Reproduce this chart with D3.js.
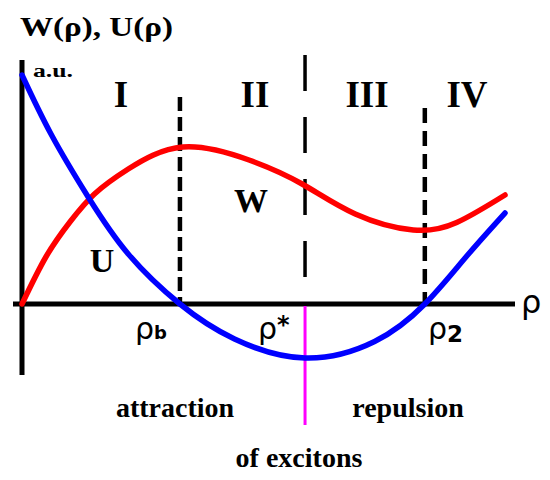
<!DOCTYPE html>
<html><head><meta charset="utf-8">
<script src="https://cdn.jsdelivr.net/npm/d3@7"></script>
<style>body{margin:0;background:#fff}svg{display:block}</style>
</head><body>
<script>
// Data
const uRho = [0, 0.6, 1.37, 2.2, 3.27, 4.4, 5.86, 7.3, 8.34, 9.2, 10];
const uVal = [4.58, 3.4, 2.14, 1.0, 0, -0.70, -1.08, -0.75, 0, 0.95, 1.82];
const wRho = [0, 0.5, 1.0, 1.5, 2.2, 3.33, 4.7, 5.8, 6.9, 8.1, 9.0, 10];
const wVal = [0, 0.95, 1.65, 2.2, 2.7, 3.14, 2.88, 2.4, 1.8, 1.48, 1.63, 2.18];
const markerRho = [3.27, 5.86, 8.34];       // rho_b, rho*, rho_2
const regionLabels = ["I", "II", "III", "IV"];
const curveLabels = ["U", "W"];

const W = 550, H = 480;
const svg = d3.select("body").append("svg").attr("width", W).attr("height", H);
const x = d3.scaleLinear().domain([0, 10]).range([22, 505]);
const y = d3.scaleLinear().domain([-2, 6]).range([404, 4]);

const serif = "'Liberation Serif','Times New Roman',serif";
const sans = "'DejaVu Sans',Verdana,sans-serif";

// Axes
svg.append("line").attr("x1", x(0)).attr("x2", x(0)).attr("y1", 60).attr("y2", 375)
  .attr("stroke", "#000").attr("stroke-width", 5);
svg.append("line").attr("x1", 13).attr("x2", 515).attr("y1", y(0)).attr("y2", y(0))
  .attr("stroke", "#000").attr("stroke-width", 5);

// Vertical marker lines
const dashStyles = [
  {top: 97, dash: "14,6", w: 4.5},
  {top: 55, dash: "36,26", w: 3.5},
  {top: 108, dash: "15,8", w: 4.5}
];
markerRho.forEach((r, i) => {
  svg.append("line").attr("x1", x(r)).attr("x2", x(r))
    .attr("y1", dashStyles[i].top).attr("y2", y(0))
    .attr("stroke", "#000").attr("stroke-width", dashStyles[i].w)
    .attr("stroke-dasharray", dashStyles[i].dash);
});
// magenta separator below axis
svg.append("line").attr("x1", x(markerRho[1])).attr("x2", x(markerRho[1]))
  .attr("y1", y(0) + 2).attr("y2", 425).attr("stroke", "#ff00ff").attr("stroke-width", 3);

// Curves
const line = d3.line().x(d => x(d[0])).y(d => y(d[1])).curve(d3.curveNatural);
svg.append("path").datum(wRho.map((r, i) => [r, wVal[i]])).attr("d", line)
  .attr("fill", "none").attr("stroke", "#ff0000").attr("stroke-width", 5.5).attr("stroke-linecap", "round");
svg.append("path").datum(uRho.map((r, i) => [r, uVal[i]])).attr("d", line)
  .attr("fill", "none").attr("stroke", "#0000ff").attr("stroke-width", 5.5).attr("stroke-linecap", "round");

// Title texts
svg.append("text").attr("x", 20).attr("y", 36).attr("font-family", serif).attr("font-weight", "bold")
  .attr("font-size", 28).attr("textLength", 153).attr("lengthAdjust", "spacingAndGlyphs").text("W(ρ), U(ρ)");
svg.append("text").attr("x", 33).attr("y", 77).attr("font-family", serif).attr("font-weight", "bold")
  .attr("font-size", 18).attr("textLength", 40).attr("lengthAdjust", "spacingAndGlyphs").text("a.u.");

// Region labels
const regionX = [121, 255, 367, 467];
regionLabels.forEach((t, i) => {
  svg.append("text").attr("x", regionX[i]).attr("y", 107).attr("text-anchor", "middle")
    .attr("font-family", serif).attr("font-weight", "bold").attr("font-size", 37).text(t);
});

// Curve labels
const curveLabelPos = [[102, 272], [251, 212]];
curveLabels.forEach((t, i) => {
  svg.append("text").attr("x", curveLabelPos[i][0]).attr("y", curveLabelPos[i][1]).attr("text-anchor", "middle")
    .attr("font-family", serif).attr("font-weight", "bold").attr("font-size", 34).text(t);
});

// rho labels
function rhoLabel(px, sub, subSize, subDy, subWeight) {
  const t = svg.append("text").attr("x", px).attr("y", 339).attr("font-family", sans).attr("font-size", 30);
  t.append("tspan").text("ρ");
  t.append("tspan").attr("font-size", subSize).attr("dy", subDy).attr("font-weight", subWeight).text(sub);
}
rhoLabel(135, "b", 18, 0, "bold");
rhoLabel(258, "*", 24, -6, "bold");
rhoLabel(428, "2", 23, 3, "bold");
svg.append("text").attr("x", 521).attr("y", 313).attr("font-family", sans).attr("font-size", 32).text("ρ");

// bottom texts
svg.append("text").attr("x", 175).attr("y", 417).attr("text-anchor", "middle").attr("font-family", serif)
  .attr("font-weight", "bold").attr("font-size", 28).text("attraction");
svg.append("text").attr("x", 408).attr("y", 417).attr("text-anchor", "middle").attr("font-family", serif)
  .attr("font-weight", "bold").attr("font-size", 28).text("repulsion");
svg.append("text").attr("x", 299).attr("y", 467).attr("text-anchor", "middle").attr("font-family", serif)
  .attr("font-weight", "bold").attr("font-size", 28).text("of excitons");
</script>
</body></html>
